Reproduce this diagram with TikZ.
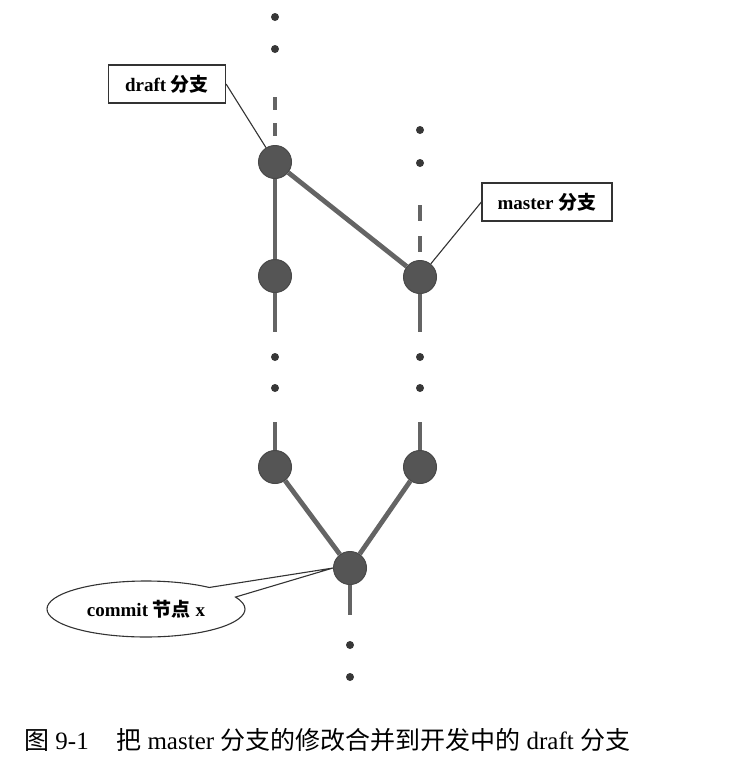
\documentclass[tikz,border=0pt]{standalone}
\usepackage{fontspec}
\setmainfont{Liberation Serif}
\newfontfamily\cjk{Noto Sans CJK SC}
\usepackage{tikz}
\usetikzlibrary{shapes.callouts}

\definecolor{commitgray}{RGB}{85,85,85}
\definecolor{linegray}{RGB}{100,100,100}
\definecolor{dotgray}{RGB}{55,55,55}

\tikzset{
commit/.style={circle,fill=commitgray,draw=commitgray!85!black,line width=1pt,minimum size=33pt,inner sep=0pt},
gapdot/.style={circle,fill=dotgray,minimum size=8pt,inner sep=0pt},
branch/.style={linegray,line width=4.8pt},
branchtag/.style={draw=black!80,line width=1.2pt,fill=white,minimum height=38pt,inner sep=0pt,font=\fontsize{19}{22}\selectfont\bfseries},
callline/.style={black!80,line width=1.1pt}
}

\begin{document}
\begin{tikzpicture}[x=1pt,y=-1pt]
\useasboundingbox (0,0) rectangle (741,764);

\node[gapdot] (dd1) at (275,17) {};
\node[gapdot] (dd2) at (275,49) {};
\coordinate (dtop) at (275,97);
\node[commit] (d1) at (275,162) {};
\node[commit] (d2) at (275,276) {};
\coordinate (d2end) at (275,332);
\node[gapdot] (dl1) at (275,357) {};
\node[gapdot] (dl2) at (275,388) {};
\coordinate (d3start) at (275,422);
\node[commit] (d3) at (275,467) {};

\node[gapdot] (md1) at (420,130) {};
\node[gapdot] (md2) at (420,163) {};
\coordinate (mtop) at (420,205);
\node[commit] (m1) at (420,277) {};
\coordinate (m1end) at (420,332);
\node[gapdot] (ml1) at (420,357) {};
\node[gapdot] (ml2) at (420,388) {};
\coordinate (m2start) at (420,422);
\node[commit] (m2) at (420,467) {};

\node[commit] (cx) at (350,568) {};
\coordinate (cxend) at (350,615);
\node[gapdot] (xd1) at (350,645) {};
\node[gapdot] (xd2) at (350,677) {};

\node[branchtag,minimum width=117pt] (dtag) at (167,84) {draft {\cjk 分支}};
\node[branchtag,minimum width=130pt] (mtag) at (547,202) {master {\cjk 分支}};
\node[ellipse callout,draw=black!80,line width=1.1pt,fill=white,minimum width=198pt,minimum height=56pt,inner sep=0pt,
  callout absolute pointer={(cx.west)},callout pointer arc=25,font=\fontsize{19}{22}\selectfont\bfseries] (xtag) at (146,609) {commit {\cjk 节点} x};

\draw[branch,dash pattern=on 13pt off 13pt] (dtop) -- (d1);
\draw[branch] (d1) -- (d2);
\draw[branch] (d1) -- (m1);
\draw[branch] (d2) -- (d2end);
\draw[branch] (d3start) -- (d3);
\draw[branch,dash pattern=on 16pt off 15pt] (mtop) -- (m1);
\draw[branch] (m1) -- (m1end);
\draw[branch] (m2start) -- (m2);
\draw[branch] (d3) -- (cx);
\draw[branch] (m2) -- (cx);
\draw[branch] (cx) -- (cxend);

\draw[callline] (dtag.east) -- (d1);
\draw[callline] (mtag.west) -- (m1);

\node[anchor=west,inner sep=0pt,font=\fontsize{25}{28}\selectfont] (caption) at (24,740) {{\cjk 图} 9-1\hspace{1.1em}{\cjk 把} master {\cjk 分支的修改合并到开发中的} draft {\cjk 分支}};
\end{tikzpicture}
\end{document}
